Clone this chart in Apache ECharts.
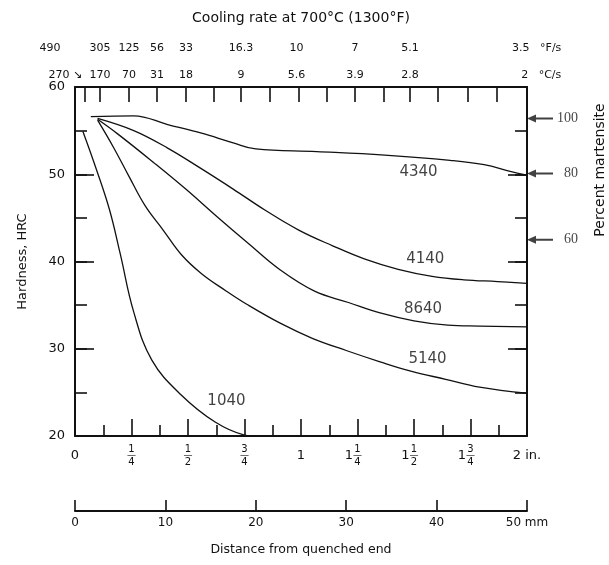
<!DOCTYPE html>
<html>
<head>
<meta charset="UTF-8">
<title>End-quench hardenability curves</title>
<script src="https://cdn.jsdelivr.net/npm/echarts@6.0.0/dist/echarts.min.js"></script>
<style>
  html, body { margin: 0; padding: 0; background: #fff; }
  #main { width: 609px; height: 565px; }
</style>
</head>
<body>
<div id="main"></div>
<script>
// hardness (HRC) against distance from the quenched end (in.)
const steel4340 = [[0.07, 56.6], [0.26, 56.7], [0.41, 55.7], [0.56, 54.7], [0.70, 53.6], [0.80, 52.9],
  [1.07, 52.6], [1.37, 52.2], [1.66, 51.6], [1.81, 51.1], [1.93, 50.3], [2.0, 49.9]];
const steel4140 = [[0.10, 56.4], [0.26, 55.0], [0.41, 53.0], [0.555, 50.7], [0.70, 48.3], [0.84, 45.9],
  [0.99, 43.6], [1.14, 41.8], [1.28, 40.3], [1.43, 39.1], [1.58, 38.3], [1.72, 37.9], [1.87, 37.7], [2.0, 37.5]];
const steel8640 = [[0.10, 56.3], [0.19, 54.6], [0.35, 51.3], [0.49, 48.3], [0.63, 45.1], [0.77, 42.0],
  [0.91, 39.0], [1.06, 36.6], [1.21, 35.3], [1.35, 34.1], [1.50, 33.2], [1.65, 32.7], [1.79, 32.6], [2.0, 32.5]];
const steel5140 = [[0.10, 56.2], [0.17, 53.1], [0.24, 49.7], [0.31, 46.4], [0.39, 43.6], [0.47, 40.8],
  [0.56, 38.6], [0.67, 36.6], [0.76, 35.1], [0.91, 32.9], [1.05, 31.2], [1.20, 29.8], [1.35, 28.5],
  [1.49, 27.4], [1.64, 26.5], [1.79, 25.6], [2.0, 24.9]];
const steel1040 = [[0.035, 54.9], [0.094, 50.6], [0.153, 45.9], [0.20, 40.9], [0.26, 34.2],
  [0.34, 28.7], [0.47, 24.7], [0.62, 21.6], [0.75, 20.1], [0.79, 20.0]];

const gradeNames = ['4340', '4140', '8640', '5140', '1040'];
const gradeLabelAt = [[1.52, 50.2], [1.55, 40.3], [1.54, 34.5], [1.56, 28.8], [0.67, 24.0]];

// percent martensite marks on the right-hand axis
const martensitePct = ['100', '80', '60'];
const martensiteHRC = [56.4, 50.1, 42.5];

// top scale: cooling rate at 700 C
const coolTickPos = [0.044, 0.111, 0.239, 0.363, 0.491, 0.615, 0.735, 0.863, 0.991, 1.115,
  1.239, 1.367, 1.482, 1.606, 1.739, 1.867];
const coolPos = [0.044, 0.111, 0.239, 0.363, 0.491, 0.735, 0.98, 1.239, 1.482, 1.97];
const coolC = ['270', '170', '70', '31', '18', '9', '5.6', '3.9', '2.8', '2'];
const coolF = ['490', '305', '125', '56', '33', '16.3', '10', '7', '5.1', '3.5'];

// bottom scales
const inchTicks = [0, 0.25, 0.5, 0.75, 1, 1.25, 1.5, 1.75, 2];
const inchText = ['0', '1/4', '1/2', '3/4', '1', '1 1/4', '1 1/2', '1 3/4', '2 in.'];
const mmTicks = [0, 10, 20, 30, 40, 50];

const FONT = 'DejaVu Sans';
const INK = '#111';

var myChart = echarts.init(document.getElementById('main'));

function nearest(list, v) {
  let best = 0;
  list.forEach(function (p, i) { if (Math.abs(p - v) < Math.abs(list[best] - v)) best = i; });
  return best;
}

// stacked fraction, whole number (if any) to its left
function inchLabel(v) {
  const t = inchText[nearest(inchTicks, v)];
  if (t.indexOf('/') < 0) return '{p|' + t + '}';
  const parts = t.split(' ');
  const nd = parts[parts.length - 1].split('/');
  if (parts.length === 1) return '{n|' + nd[0] + '}\n{b|—}\n{n|' + nd[1] + '}';
  const w = parts[0];
  return '{g|' + w + '}{n|' + nd[0] + '}{g|' + w + '}\n' +
         '{w|' + w + '}{b|—}{g|' + w + '}\n' +
         '{g|' + w + '}{n|' + nd[1] + '}{g|' + w + '}';
}

function coolLabel(texts, unit, firstExtra) {
  return function (v) {
    const i = nearest(coolPos, v);
    if (i === 0) return '{first|' + texts[0] + firstExtra + '}';
    if (i === texts.length - 1) return '{last|' + texts[i] + '   ' + unit + '}';
    return '{c|' + texts[i] + '}';
  };
}

// short ticks every 5 HRC, long ones every 10
// (onZero off, otherwise the right axis jumps to x = 0)
function hrcAxis(position, interval, len, labels) {
  return {
    gridIndex: 0, type: 'value', position: position, offset: 0, min: 20, max: 60, interval: interval,
    axisLine: { show: labels !== null, onZero: false, lineStyle: { color: INK, width: 2 } },
    axisTick: { inside: true, length: len, lineStyle: { color: INK, width: 1.6 } },
    splitLine: { show: false },
    axisLabel: labels || { show: false }
  };
}

const lineSeries = [steel4340, steel4140, steel8640, steel5140, steel1040].map(function (d, i) {
  return {
    name: gradeNames[i],
    type: 'line',
    xAxisIndex: 0,
    yAxisIndex: 0,
    data: d,
    showSymbol: false,
    smooth: 0.4,
    lineStyle: { color: INK, width: 1.3 },
    silent: true
  };
});

const leftAxis = hrcAxis('left', 10, 19, { margin: 10, fontSize: 13, color: INK });
leftAxis.name = 'Hardness, HRC';
leftAxis.nameLocation = 'middle';
leftAxis.nameGap = 46;
leftAxis.nameMoveOverlap = false;
leftAxis.nameTextStyle = { fontSize: 13, color: INK, fontFamily: FONT };

const rightAxis = hrcAxis('right', 10, 19, { show: false });

var option = {
  animation: false,
  backgroundColor: '#fff',
  textStyle: { fontFamily: FONT, color: INK },
  grid: [
    { left: 75, right: 82, top: 87, bottom: 129, outerBoundsMode: 'none' },
    { left: 75, right: 82, top: 499, height: 12, outerBoundsMode: 'none' }
  ],
  xAxis: [
    { // inches, bottom of the plot
      gridIndex: 0, type: 'value', position: 'bottom', min: 0, max: 2, interval: 0.25,
      axisLine: { onZero: false, lineStyle: { color: INK, width: 2 } },
      axisTick: { inside: true, length: 17, lineStyle: { color: INK, width: 1.6 } },
      minorTick: { show: true, splitNumber: 2, length: 11, lineStyle: { color: INK, width: 1.6 } },
      splitLine: { show: false },
      axisLabel: {
        margin: 9, color: INK, formatter: inchLabel,
        rich: {
          p: { fontSize: 13, lineHeight: 22, fontFamily: FONT, color: INK },
          n: { fontSize: 10, lineHeight: 9, width: 9, align: 'center', fontFamily: FONT, color: INK },
          b: { fontSize: 9, lineHeight: 4, width: 9, align: 'center', fontFamily: FONT, color: INK },
          w: { fontSize: 13, lineHeight: 4, fontFamily: FONT, color: INK },
          g: { fontSize: 13, lineHeight: 4, fontFamily: FONT, color: 'rgba(0,0,0,0)' }
        }
      }
    },
    { // cooling rate, degC/s row with the ticks
      gridIndex: 0, type: 'value', position: 'top', offset: 0, min: 0, max: 2,
      name: 'Cooling rate at 700°C (1300°F)', nameLocation: 'middle', nameGap: 62,
      nameMoveOverlap: false,
      nameTextStyle: { fontSize: 14, color: INK, fontFamily: FONT },
      axisLine: { onZero: false, lineStyle: { color: INK, width: 2 } },
      axisTick: { inside: true, length: 15, customValues: coolTickPos, lineStyle: { color: INK, width: 1.6 } },
      splitLine: { show: false },
      axisLabel: {
        margin: 6, customValues: coolPos,
        formatter: coolLabel(coolC, '°C/s', ' ↘'),
        rich: {
          c: { fontSize: 11, color: INK, fontFamily: FONT },
          first: { fontSize: 11, color: INK, fontFamily: FONT, padding: [0, 39, 0, 0] },
          last: { fontSize: 11, color: INK, fontFamily: FONT, padding: [0, 0, 0, 42] }
        }
      }
    },
    { // cooling rate, degF/s row
      gridIndex: 0, type: 'value', position: 'top', offset: 0, min: 0, max: 2,
      axisLine: { show: false, onZero: false }, axisTick: { show: false }, splitLine: { show: false },
      axisLabel: {
        margin: 33, customValues: coolPos,
        formatter: coolLabel(coolF, '°F/s', ''),
        rich: {
          c: { fontSize: 11, color: INK, fontFamily: FONT },
          first: { fontSize: 11, color: INK, fontFamily: FONT, padding: [0, 70, 0, 0] },
          last: { fontSize: 11, color: INK, fontFamily: FONT, padding: [0, 0, 0, 33] }
        }
      }
    },
    { // millimetres
      gridIndex: 1, type: 'value', position: 'bottom', min: 0, max: 50, interval: 10,
      name: 'Distance from quenched end', nameLocation: 'middle', nameGap: 32,
      nameMoveOverlap: false,
      nameTextStyle: { fontSize: 12.5, color: INK, fontFamily: FONT },
      axisLine: { onZero: false, lineStyle: { color: INK, width: 2 } },
      axisTick: { inside: true, length: 11, lineStyle: { color: INK, width: 1.6 } },
      splitLine: { show: false },
      axisLabel: {
        margin: 6, fontSize: 12, color: INK, customValues: mmTicks,
        formatter: function (v) { return v === 50 ? '50 mm' : String(v); }
      }
    }
  ],
  yAxis: [
    leftAxis,
    rightAxis,
    { gridIndex: 1, type: 'value', min: 0, max: 1, show: false },
    hrcAxis('left', 5, 12, null),
    hrcAxis('right', 5, 12, null)
  ],
  graphic: [{
    type: 'text', x: 600, y: 170, rotation: Math.PI / 2,
    style: { text: 'Percent martensite', font: '14px "DejaVu Sans"', fill: INK, align: 'center', verticalAlign: 'middle' }
  }],
  series: lineSeries.concat([
    {
      name: 'grade labels', type: 'scatter', xAxisIndex: 0, yAxisIndex: 0,
      data: gradeNames.map(function (n, i) { return { name: n, value: gradeLabelAt[i] }; }),
      symbolSize: 1, itemStyle: { color: 'rgba(0,0,0,0)' }, silent: true,
      label: { show: true, position: 'inside', formatter: '{b}', fontSize: 15, color: INK, fontFamily: FONT }
    },
    {
      name: 'martensite', type: 'scatter', xAxisIndex: 0, yAxisIndex: 1, clip: false,
      data: martensitePct.map(function (p, i) { return { name: p, value: [2, martensiteHRC[i]] }; }),
      symbol: 'path://M0,4L9,0L9,3L26,3L26,5L9,5L9,8Z', symbolSize: [26, 8], symbolOffset: [13, 0],
      itemStyle: { color: INK }, silent: true,
      label: { show: true, position: 'right', distance: 25, align: 'right', formatter: '{b}',
        fontSize: 14, color: INK, fontFamily: 'Liberation Serif' }
    }
  ])
};

myChart.setOption(option);
</script>
</body>
</html>
